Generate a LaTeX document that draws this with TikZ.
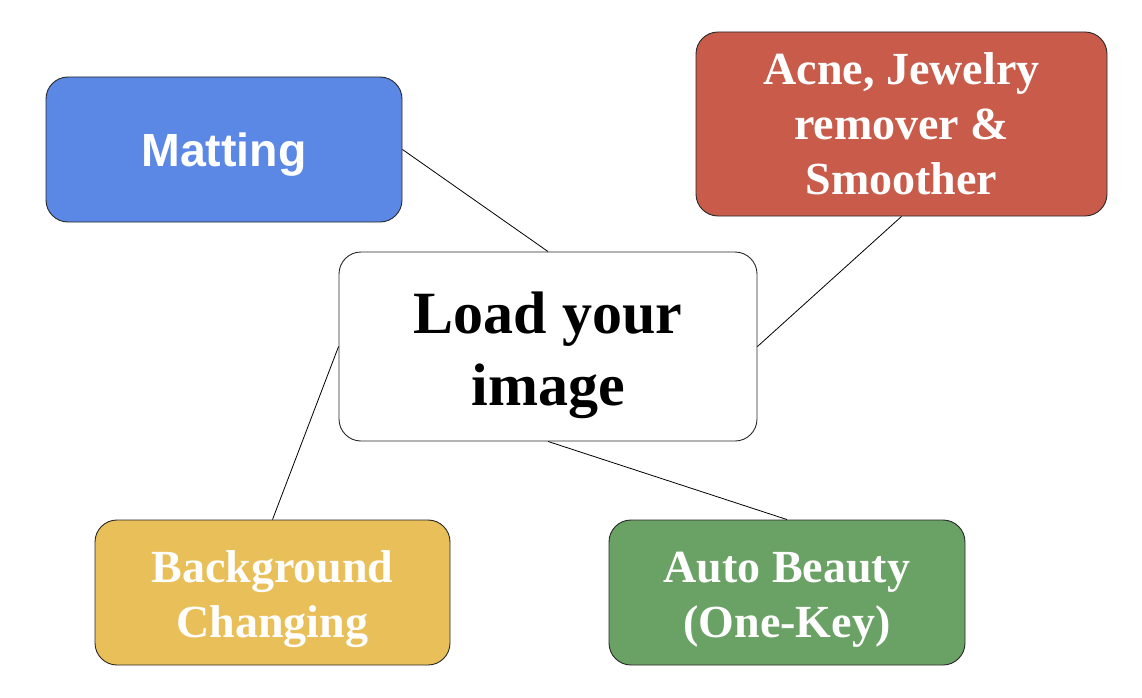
\documentclass[tikz,border=0pt]{standalone}
\usepackage{fontspec}
\setmainfont{Liberation Serif}
\newfontfamily\arialfont{Liberation Sans}
\definecolor{mattblue}{RGB}{91,135,229}
\definecolor{acnered}{RGB}{201,91,74}
\definecolor{bgyellow}{RGB}{233,191,89}
\definecolor{autogreen}{RGB}{106,161,100}
\definecolor{edgegray}{RGB}{40,40,40}
\tikzset{
  box/.style={draw=edgegray, line width=0.9pt, rounded corners=22pt, inner sep=0pt},
  lbl/.style={inner sep=0pt, align=center, text=white, font=\bfseries\fontsize{46}{55}\selectfont},
  link/.style={draw=black, line width=0.8pt}
}
\begin{document}
\begin{tikzpicture}[x=1pt,y=-1pt]
\useasboundingbox (0,0) rectangle (1142,698);
\fill[white] (0,0) rectangle (1142,698);
\node[box, fill=mattblue, minimum width=356pt, minimum height=145pt] (matt) at (224,149.5) {};
\node[lbl, font=\arialfont\bfseries\fontsize{46.5}{55}\selectfont, yshift=-5pt] (matt-t) at (matt.center) {Matting};
\node[box, fill=white, minimum width=418pt, minimum height=189pt] (load) at (548,346.5) {};
\node[lbl, text=black, font=\bfseries\fontsize{60}{72}\selectfont, yshift=-9pt] (load-t) at (load.center) {Load your\\image};
\node[box, fill=acnered, minimum width=411pt, minimum height=184pt] (acne) at (901.5,124) {};
\node[lbl] (acne-t) at (acne.center) {Acne, Jewelry\\remover \&\\Smoother};
\node[box, fill=bgyellow, minimum width=355pt, minimum height=145pt] (bg) at (272.5,592.5) {};
\node[lbl, yshift=-7pt] (bg-t) at (bg.center) {Background\\Changing};
\node[box, fill=autogreen, minimum width=356pt, minimum height=145pt] (auto) at (787,592.5) {};
\node[lbl, yshift=-7pt] (auto-t) at (auto.center) {Auto Beauty\\(One-Key)};
\draw[link] (matt.east) -- (load.north);
\draw[link] (acne.south) -- (load.east);
\draw[link] (load.west) -- (bg.north);
\draw[link] (load.south) -- (auto.north);
\end{tikzpicture}
\end{document}
